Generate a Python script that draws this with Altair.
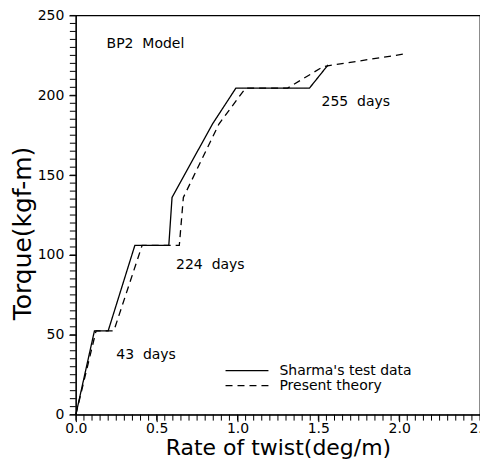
import altair as alt
import pandas as pd

# Sharma's test data (solid)
sharma_x = [0.0, 0.115, 0.20, 0.365, 0.575, 0.595, 0.845, 0.99, 1.445, 1.56]
sharma_y = [0.0, 52.5, 52.5, 106.0, 106.0, 136.0, 182.0, 204.5, 204.5, 219.0]
# Present theory (dashed)
theory_x = [0.0, 0.125, 0.235, 0.41, 0.64, 0.665, 0.885, 1.05, 1.31, 1.53, 2.04]
theory_y = [0.0, 52.5, 52.5, 106.0, 106.0, 136.0, 182.0, 204.5, 204.5, 218.0, 226.0]

series_names = ["Sharma's test data", "Present theory"]

# annotations
note_text = ["BP2\u00a0 Model", "224\u00a0 days", "255\u00a0 days", "43\u00a0 days"]
note_x = [0.19, 0.62, 1.52, 0.25]
note_y = [232, 93.5, 196, 37.5]

# axis tick labels and minor ticks
x_labels = [0.0, 0.5, 1.0, 1.5, 2.0, 2.5]
y_labels = [0, 50, 100, 150, 200, 250]
x_minor = [round(k * 0.05, 2) for k in range(51)]
y_minor = [k * 5 for k in range(51)]

rows = []
for i, (x, y) in enumerate(zip(sharma_x, sharma_y)):
    rows.append({"series": series_names[0], "x": x, "y": y, "order": i})
for i, (x, y) in enumerate(zip(theory_x, theory_y)):
    rows.append({"series": series_names[1], "x": x, "y": y, "order": i})
df = pd.DataFrame(rows)
notes = pd.DataFrame({"text": note_text, "x": note_x, "y": note_y})
xminor_df = pd.DataFrame({"t": x_minor})
yminor_df = pd.DataFrame({"t": y_minor})

FONT = "DejaVu Sans"
H = 400

xs = alt.Scale(domain=[0, 2.5], nice=False, zero=False)
ys = alt.Scale(domain=[0, 250], nice=False, zero=False)

x_axis = alt.Axis(
    values=x_labels, format=".1f", labelFlush=False,
    labelOverlap=False, grid=False, tickSize=7, tickColor="black",
    domainColor="black", labelFont=FONT, labelFontSize=14, labelColor="black",
    labelPadding=0, title="Rate of twist(deg/m)", titleFont=FONT,
    titleFontSize=22, titleFontWeight="normal", titleColor="black", titlePadding=2,
)
y_axis = alt.Axis(
    values=y_labels, format="d", labelFlush=False,
    labelOverlap=False, grid=False, tickSize=7, tickColor="black",
    domainColor="black", labelFont=FONT, labelFontSize=14, labelColor="black",
    labelPadding=5, title="Torque(kgf-m)", titleFont=FONT,
    titleFontSize=25, titleFontWeight="normal", titleColor="black",
    titleX=-40, titleY=218,
)

lines = alt.Chart(df).mark_line(color="black", strokeWidth=1.3).encode(
    x=alt.X("x:Q", scale=xs, axis=x_axis),
    y=alt.Y("y:Q", scale=ys, axis=y_axis),
    strokeDash=alt.StrokeDash(
        "series:N",
        scale=alt.Scale(domain=series_names, range=[[1, 0], [7, 5]]),
        legend=alt.Legend(
            title=None, orient="none", legendX=149, legendY=350,
            symbolType="stroke", symbolSize=1850, symbolStrokeWidth=1.3,
            symbolStrokeColor="black", labelFont=FONT, labelFontSize=14,
            labelColor="black", labelOffset=10, rowPadding=1, clipHeight=12,
        ),
    ),
    order="order:Q",
)

texts = alt.Chart(notes).mark_text(
    align="left", baseline="middle", font=FONT, fontSize=14, color="black"
).encode(
    x=alt.X("x:Q", scale=xs, axis=x_axis),
    y=alt.Y("y:Q", scale=ys, axis=y_axis),
    text="text:N",
)

x_minor_ticks = alt.Chart(xminor_df).mark_rule(color="black", strokeWidth=1).encode(
    x=alt.X("t:Q", scale=xs, axis=x_axis),
    y=alt.value(H), y2=alt.value(H + 6),
)
y_minor_ticks = alt.Chart(yminor_df).mark_rule(color="black", strokeWidth=1).encode(
    y=alt.Y("t:Q", scale=ys, axis=y_axis),
    x=alt.value(-6), x2=alt.value(0),
)

chart = alt.layer(lines, texts, x_minor_ticks, y_minor_ticks).properties(
    width=405, height=H, background="white",
    autosize=alt.AutoSizeParams(type="none"),
    padding={"left": 68, "top": 7, "right": 0, "bottom": 50},
).configure_view(stroke="black", strokeWidth=1.3)

chart.save("out.html", embed_options={"renderer": "svg", "actions": False})
